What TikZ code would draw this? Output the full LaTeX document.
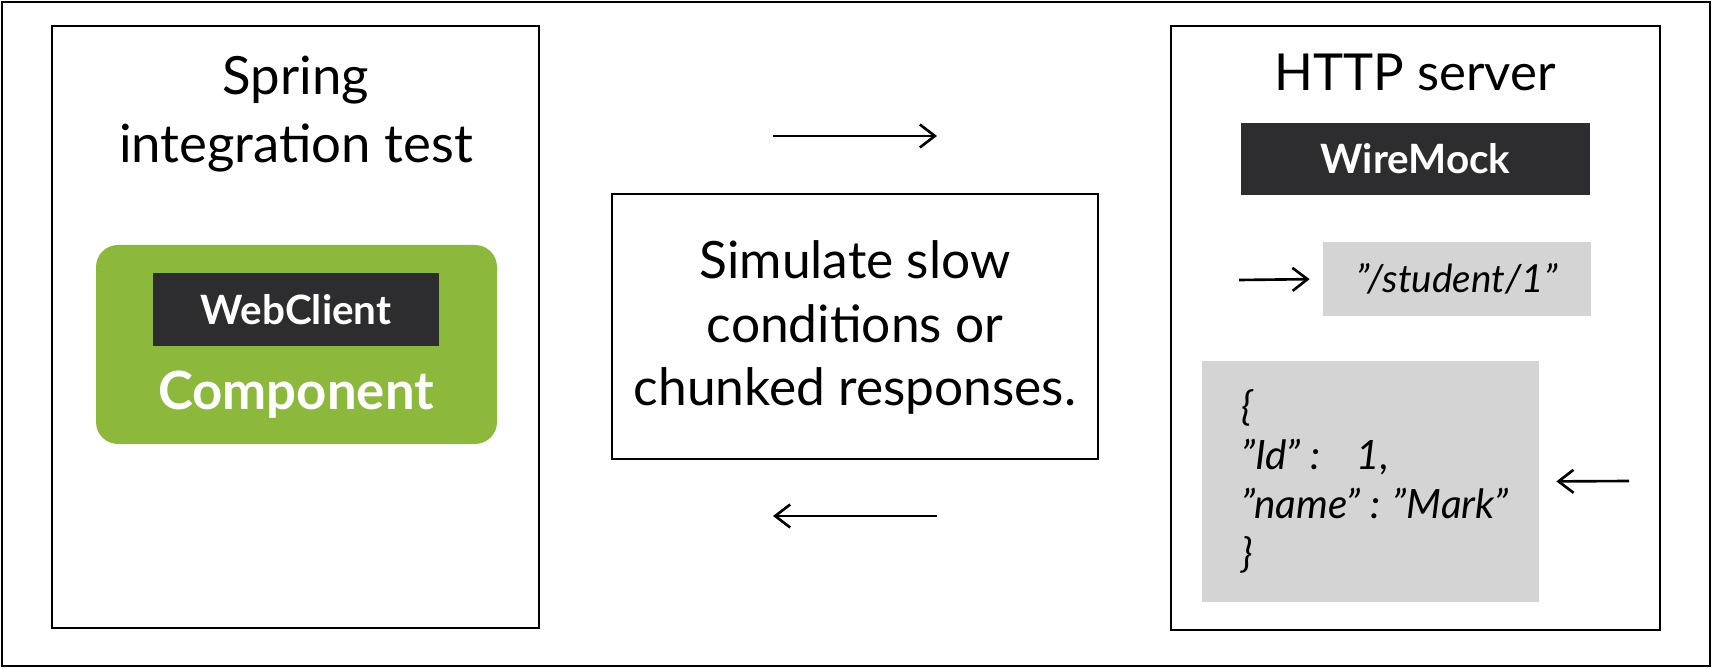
\documentclass[tikz,border=0pt]{standalone}
\usepackage{fontspec}
\setmainfont{Lato}
\usepackage{tikz}
\usetikzlibrary{positioning,arrows.meta}
\definecolor{springgreen}{HTML}{8CB83C}
\definecolor{mockdark}{HTML}{2D2D30}
\definecolor{jsongray}{HTML}{D4D4D4}

\begin{document}
\begin{tikzpicture}[
		>={Straight Barb[length=0.3cm,width=0.46cm]},
		box/.style={draw=black, line width=1.6pt, inner sep=0pt},
		darkbox/.style={fill=mockdark, text=white, inner sep=0pt, font=\fontsize{23}{28}\selectfont\bfseries},
		graybox/.style={fill=jsongray, inner sep=0pt},
		big/.style={font=\fontsize{29}{39}\selectfont, align=center},
		flow/.style={arrows=->, line width=1.5pt}
	]
			\useasboundingbox (0,0) rectangle (34.24,13.36);
			\draw[line width=1.2pt] (0.04,0.04) rectangle (34.2,13.32);
			% integration test side
			\node[box, minimum width=9.74cm, minimum height=12.04cm] (test) at (5.91,6.82) {};
			\node[big, font=\fontsize{30}{39}\selectfont] (testtitle) at (5.92,11.08) {Spring\\integration test};
			\node[fill=springgreen, rounded corners=0.44cm, minimum width=8.02cm, minimum height=3.98cm] (component) at (5.93,6.47) {};
			\node[darkbox, minimum width=5.72cm, minimum height=1.46cm] (webclient) at (5.92,7.17) {WebClient};
			\node[anchor=base, text=white, font=\fontsize{30}{36}\selectfont\bfseries] (complabel) at (5.92,5.18) {Component};
			% middle
			\node[box, minimum width=9.72cm, minimum height=5.3cm] (slow) at (17.1,6.83) {};
			\node[big, font=\fontsize{29.3}{36}\selectfont] (slowlabel) at (17.1,6.81) {Simulate slow\\conditions or\\chunked responses.};
			\coordinate (reqstart) at (15.46,10.64);
			\coordinate (reqend) at (18.74,10.64);
			\coordinate (respstart) at (18.74,3.04);
			\coordinate (respend) at (15.46,3.04);
			\draw[flow] (reqstart) -- (reqend);
			\draw[flow] (respstart) -- (respend);
			% server side
			\node[box, minimum width=9.78cm, minimum height=12.08cm] (server) at (28.31,6.8) {};
			\node[anchor=base, font=\fontsize{29}{36}\selectfont] (serverlabel) at (28.3,11.54) {HTTP server};
			\node[darkbox, minimum width=6.98cm, minimum height=1.44cm] (wiremock) at (28.31,10.18) {WireMock};
			\node[graybox, minimum width=5.36cm, minimum height=1.48cm, font=\fontsize{22}{26}\selectfont\itshape] (student) at (29.14,7.78) {”/student/1”};
			\node[graybox, minimum width=6.74cm, minimum height=4.82cm] (json) at (27.41,3.73) {};
			\node[right=0.78cm of json.west, inner sep=0pt, align=left, font=\fontsize{23}{28}\selectfont\itshape] (jsonlabel) {\{\\”Id” :\hspace{0.6em} 1,\\”name” : ”Mark”\\\}};
			\coordinate (reqin) at (24.78,7.76);
			\coordinate (respin) at (32.58,3.74);
			\draw[flow, shorten >=0.26cm] (reqin) -- (student.west);
			\draw[flow, shorten >=0.34cm] (respin) -- (json.east);
		\end{tikzpicture}
\end{document}
